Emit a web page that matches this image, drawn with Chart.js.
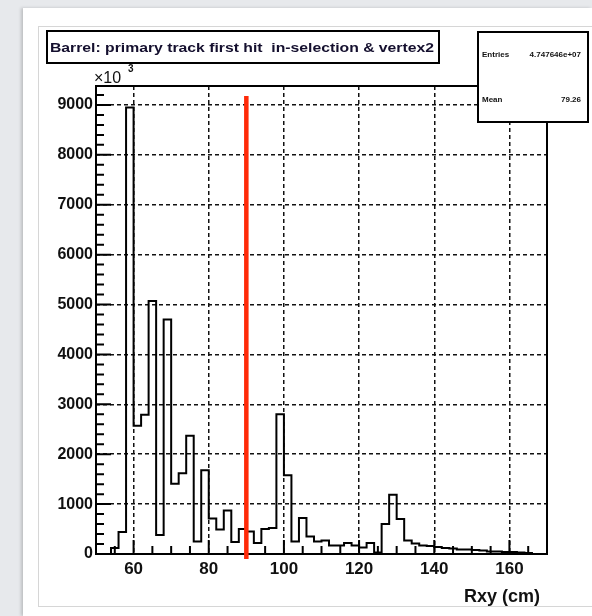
<!DOCTYPE html>
<html>
<head>
<meta charset="utf-8">
<script src="https://cdn.jsdelivr.net/npm/chart.js@4"></script>
<style>
  body { margin: 0; background: #e7e9ec; }
  #panel { position: absolute; left: 23px; top: 8px; width: 569px; height: 608px; background: #fff; box-shadow: -2px 0 3px rgba(0,0,0,0.18); }
  #inner { position: absolute; left: 38px; top: 26px; width: 560px; height: 579px; border-top: 1px solid #d6d6d6; border-left: 1px solid #d6d6d6; border-bottom: 1px solid #d6d6d6; }
  #myChart { position: absolute; left: 0; top: 0; }
</style>
</head>
<body>
<div id="panel"></div>
<div id="inner"></div>
<canvas id="myChart" width="592" height="616"></canvas>
<script>
// histogram bins (low edge, cm) and content (x10^3)
const binEdges = [50, 52, 54, 56, 58, 60, 62, 64, 66, 68, 70, 72, 74, 76, 78, 80, 82, 84, 86, 88,
                  90, 92, 94, 96, 98, 100, 102, 104, 106, 108, 110, 112, 114, 116, 118, 120, 122, 124, 126, 128,
                  130, 132, 134, 136, 138, 140, 142, 144, 146, 148, 150, 152, 154, 156, 158, 160, 162, 164, 166, 168];
const binEnd = 170;
const counts = [0, 0, 120, 440, 8950, 2570, 2790, 5070, 380, 4700, 1410, 1620, 2370, 250, 1680, 710, 490, 870, 240, 500,
                450, 220, 500, 520, 2800, 1580, 250, 720, 350, 250, 270, 170, 170, 220, 170, 130, 220, 30, 600, 1190,
                700, 270, 210, 170, 160, 140, 120, 110, 90, 90, 80, 70, 50, 50, 40, 40, 30, 20, 0, 0];
const xTicks = [60, 80, 100, 120, 140, 160];
const yTicks = [0, 1000, 2000, 3000, 4000, 5000, 6000, 7000, 8000, 9000];
const cutX = 90;
const cutRange = [9180, -100];

const titleText = "Barrel: primary track first hit  in-selection & vertex2";
const statNames = ["Entries", "Mean"];
const statValues = ["4.747646e+07", "79.26"];

let histPoints = binEdges.map((e, i) => ({x: e, y: counts[i]}));
histPoints.push({x: binEnd, y: counts[counts.length - 1]});
const cutPoints = cutRange.map(v => ({x: cutX, y: v}));

const FONT = "'Liberation Sans', Arial, sans-serif";

const rootFrame = {
    id: 'rootFrame',
    beforeDatasetsDraw(chart) {
        const {ctx, chartArea: a, scales: {x, y}} = chart;
        ctx.save();
        ctx.strokeStyle = '#000';
        ctx.lineWidth = 2;
        ctx.beginPath();
        for (let v = 0; v <= y.max; v += 200) {
            const py = y.getPixelForValue(v);
            const len = v % 1000 === 0 ? 15 : 8;
            ctx.moveTo(a.left, py); ctx.lineTo(a.left + len, py);
        }
        for (let v = x.min; v <= x.max; v += 5) {
            const px = x.getPixelForValue(v);
            const len = (v % 20 === 0) ? 14 : 8;
            ctx.moveTo(px, a.bottom); ctx.lineTo(px, a.bottom - len);
        }
        ctx.stroke();
        ctx.strokeRect(a.left, a.top, a.right - a.left, a.bottom - a.top);
        ctx.restore();
    },
    afterDraw(chart) {
        const {ctx} = chart;
        ctx.save();
        // title box
        ctx.lineWidth = 2;
        ctx.strokeStyle = '#000';
        ctx.fillStyle = '#fff';
        ctx.fillRect(47, 31, 392, 32);
        ctx.strokeRect(47, 31, 392, 32);
        ctx.fillStyle = '#140f2e';
        ctx.font = 'bold 13px ' + FONT;
        ctx.textBaseline = 'middle';
        ctx.textAlign = 'left';
        const w = ctx.measureText(titleText).width;
        ctx.save();
        ctx.translate(50, 48);
        ctx.scale(384 / w, 1);
        ctx.fillText(titleText, 0, 0);
        ctx.restore();
        // stats box
        ctx.fillStyle = '#fff';
        ctx.fillRect(478, 32, 110, 90);
        ctx.strokeRect(478, 32, 110, 90);
        ctx.fillStyle = '#111';
        ctx.font = 'bold 8px ' + FONT;
        ctx.fillText(statNames[0], 482, 55);
        ctx.fillText(statNames[1], 482, 100);
        ctx.textAlign = 'right';
        ctx.fillText(statValues[0], 581, 55);
        ctx.fillText(statValues[1], 581, 100);
        // exponent
        ctx.textAlign = 'left';
        ctx.textBaseline = 'alphabetic';
        ctx.font = '16px ' + FONT;
        ctx.fillText('\u00d710', 94, 83);
        ctx.font = 'bold 10px ' + FONT;
        ctx.fillText('3', 128, 72);
        // axis title
        ctx.font = 'bold 18px ' + FONT;
        ctx.textAlign = 'right';
        ctx.textBaseline = 'middle';
        ctx.fillText('Rxy (cm)', 540, 597);
        ctx.restore();
    }
};

new Chart("myChart", {
    type: "line",
    data: {
        datasets: [{
            data: cutPoints,
            borderColor: '#ff2a08',
            borderWidth: 4.5,
            pointRadius: 0,
            clip: false
        }, {
            data: histPoints,
            stepped: 'before',
            borderColor: '#000',
            borderWidth: 2,
            pointRadius: 0,
            fill: false
        }]
    },
    options: {
        responsive: false,
        animation: false,
        devicePixelRatio: 1,
        layout: {padding: {top: 86, right: 45, left: 0, bottom: 0}},
        plugins: {legend: {display: false}, tooltip: {enabled: false}},
        scales: {
            x: {
                type: 'linear',
                min: binEdges[0],
                max: binEnd,
                afterBuildTicks: s => { s.ticks = xTicks.map(v => ({value: v})); },
                afterFit: s => { s.height = 62; },
                grid: {color: '#111', lineWidth: 1.5, drawTicks: false},
                border: {display: false, dash: [4, 3]},
                ticks: {color: '#111', font: {family: FONT, size: 17, weight: 'bold'}, padding: 5, maxRotation: 0, autoSkip: false,
                        callback: v => String(v)}
            },
            y: {
                min: 0,
                max: 9380,
                afterBuildTicks: s => { s.ticks = yTicks.map(v => ({value: v})); },
                afterFit: s => { s.width = 96; },
                grid: {color: '#111', lineWidth: 1.5, drawTicks: false},
                border: {display: false, dash: [4, 3]},
                ticks: {color: '#111', font: {family: FONT, size: 16, weight: 'bold'}, padding: 3, autoSkip: false,
                        callback: v => String(v)}
            }
        }
    },
    plugins: [rootFrame]
});
</script>
</body>
</html>
